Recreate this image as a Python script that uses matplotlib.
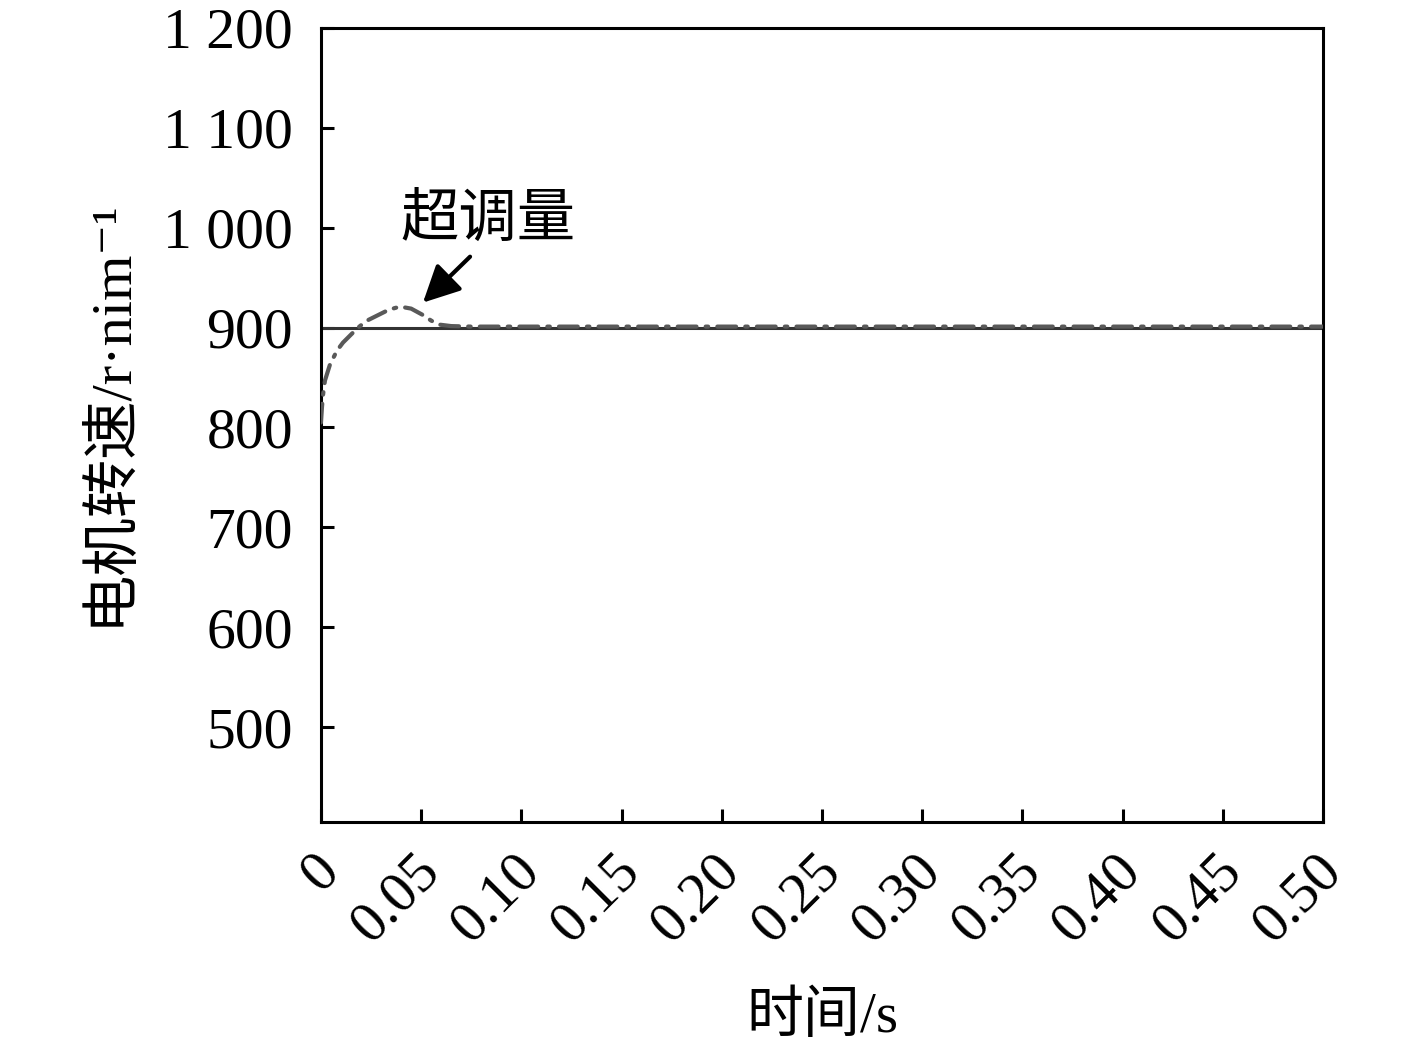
import matplotlib
matplotlib.use("Agg")
import matplotlib.pyplot as plt
import matplotlib.transforms as mtransforms

plt.rcParams['font.family'] = ['Liberation Serif', 'Noto Sans CJK SC', 'DejaVu Sans']

# Data
t_ref = [0.0, 0.5]
v_ref = [900, 900]

t_sim = [0.0, 0.0005, 0.001, 0.002, 0.0045, 0.008, 0.011, 0.014, 0.0185, 0.023, 0.028,
         0.034, 0.0395, 0.045, 0.0505, 0.055, 0.059, 0.065, 0.075, 0.1, 0.2, 0.3, 0.4, 0.5]
v_sim = [805, 820, 832, 847, 863, 877, 885, 891, 900, 907, 912,
         918, 921, 919, 913, 907, 903, 901.5, 901, 901, 901, 901, 901, 901]

x_ticks = [0, 0.05, 0.10, 0.15, 0.20, 0.25, 0.30, 0.35, 0.40, 0.45, 0.50]
x_labels = ['0', '0.05', '0.10', '0.15', '0.20', '0.25', '0.30', '0.35', '0.40', '0.45', '0.50']
y_ticks = [500, 600, 700, 800, 900, 1000, 1100, 1200]
y_labels = ['500', '600', '700', '800', '900', '1 000', '1 100', '1 200']

fig = plt.figure(figsize=(14.17, 10.51), dpi=100)
ax = fig.add_axes([0.2265, 0.2179, 0.7072, 0.7555])

ax.plot(t_sim, v_sim, color='#595959', lw=3.0, linestyle=(0, (4.5, 2.2, 0.6, 2.2)),
        dash_capstyle='round', zorder=3)
ax.plot(t_ref, v_ref, color='#333333', lw=2.2, zorder=2)

ax.set_xlim(0, 0.5)
ax.set_ylim(405, 1200)
ax.set_xticks(x_ticks)
ax.set_xticklabels(x_labels, rotation=45, ha='right', va='top', rotation_mode='anchor')
ax.set_yticks(y_ticks)
ax.set_yticklabels(y_labels)
ax.tick_params(direction='in', length=9.5, width=2.2, labelsize=41.5)
ax.tick_params(axis='y', pad=20)
ax.tick_params(axis='x', pad=16)
for s in ax.spines.values():
    s.set_linewidth(2.2)

offset = mtransforms.ScaledTranslation(-8 / 100, 0, fig.dpi_scale_trans)
for lab in ax.get_xticklabels():
    lab.set_transform(lab.get_transform() + offset)

ax.set_xlabel('时间/s', fontsize=41, labelpad=28)
ax.set_ylabel('电机转速/r·nim⁻¹', fontsize=42)
ax.yaxis.set_label_coords(-0.184, 0.516)

ax.annotate('', xy=(0.0509, 925), xytext=(0.0744, 971),
            arrowprops=dict(arrowstyle='-|>,head_length=1.5,head_width=0.75', color='black',
                            lw=3, mutation_scale=15, shrinkA=0, shrinkB=0))
ax.text(0.0833, 1007, '超调量', fontsize=42, ha='center', va='center')

fig.savefig('out.png', dpi=100)
